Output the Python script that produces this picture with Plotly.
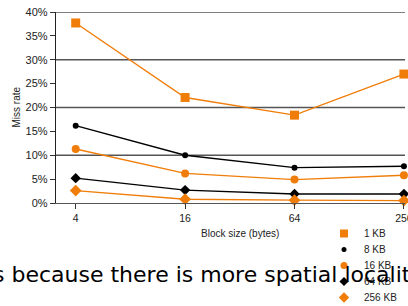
import plotly.graph_objects as go

block_sizes = ["4", "16", "64", "256"]
series_names = ["1 KB", "8 KB", "16 KB", "64 KB", "256 KB"]
miss_1kb = [37.7, 22.1, 18.4, 27.0]
miss_8kb = [16.2, 10.0, 7.4, 7.7]
miss_16kb = [11.3, 6.2, 4.9, 5.8]
miss_64kb = [5.2, 2.7, 1.9, 1.9]
miss_256kb = [2.6, 0.8, 0.6, 0.5]
y_tick_vals = [0, 5, 10, 15, 20, 25, 30, 35, 40]
y_tick_text = ["0%", "5%", "10%", "15%", "20%", "25%", "30%", "35%", "40%"]
grid_vals = [10, 20, 30, 40]

ORANGE = "#F07D0A"
BLACK = "#000000"
values = [miss_1kb, miss_8kb, miss_16kb, miss_64kb, miss_256kb]
colors = [ORANGE, BLACK, ORANGE, BLACK, ORANGE]
symbols = ["square", "circle", "circle", "diamond", "diamond"]
sizes = [9, 6, 8, 8, 9]
legend_ids = ["legend", "legend2", "legend3", "legend4", "legend5"]

W, H = 408, 306
ML, MT = 56, 12
MR = W - 405
MB = H - 203
PW, PH = W - ML - MR, H - MT - MB


def px(xp):
    return (xp - ML) / PW


def py(yp):
    return (H - MB - yp) / PH


fig = go.Figure()
for name, vals, c, s, sz in zip(series_names, values, colors, symbols, sizes):
    fig.add_trace(go.Scatter(
        x=block_sizes, y=vals, mode="lines+markers", name=name,
        line=dict(color=c, width=1.4),
        marker=dict(color=c, symbol=s, size=sz),
        showlegend=False, cliponaxis=False,
    ))
for name, c, s, sz, lid in zip(series_names, colors, symbols, sizes, legend_ids):
    fig.add_trace(go.Scatter(
        x=[None], y=[None], mode="markers", name=name,
        marker=dict(color=c, symbol=s, size=sz - 1),
        showlegend=True, legend=lid,
    ))

for g in grid_vals:
    fig.add_shape(type="line", xref="paper", x0=0, x1=1, yref="y", y0=g, y1=g,
                  line=dict(color="#555555", width=1.3), layer="below")

legend_layout = {}
for i, lid in enumerate(legend_ids):
    top = 219 + 16 * i
    legend_layout[lid] = dict(
        xref="paper", yref="paper",
        x=px(324), y=py(top), xanchor="left", yanchor="top",
        font=dict(size=10, color="#222222"),
        bgcolor="rgba(0,0,0,0)", itemwidth=30, borderwidth=0,
    )

fig.update_layout(
    width=W, height=H,
    margin=dict(l=ML, r=MR, t=MT, b=MB, autoexpand=False),
    paper_bgcolor="white", plot_bgcolor="white",
    font=dict(family="Liberation Sans, Arial, sans-serif", size=10, color="#222222"),
    showlegend=True,
    xaxis=dict(
        type="category", categoryorder="array", categoryarray=block_sizes,
        range=[-0.18, 3.01], showgrid=False, zeroline=False,
        showline=True, linecolor="#555555", linewidth=1.3,
        ticks="outside", ticklen=5, tickcolor="#333333",
        tickfont=dict(size=10.5, color="#222222"),
    ),
    yaxis=dict(
        range=[0, 40], tickmode="array", tickvals=y_tick_vals, ticktext=y_tick_text,
        showgrid=False, zeroline=False,
        showline=True, linecolor="#222222", linewidth=1.3,
        ticks="outside", ticklen=5, tickcolor="#333333",
        tickfont=dict(size=11, color="#222222"),
    ),
    annotations=[
        dict(text="Miss rate", xref="paper", yref="paper", x=px(16), y=0.5,
             textangle=-90, showarrow=False, font=dict(size=10, color="#222222"),
             xanchor="center", yanchor="middle"),
        dict(text="Block size (bytes)", xref="paper", yref="paper",
             x=px(240), y=py(233),
             showarrow=False, font=dict(size=10, color="#222222"),
             xanchor="center", yanchor="middle"),
        dict(text="s because there is more spatial localit", xref="paper", yref="paper",
             x=px(-9), y=py(274), xanchor="left", yanchor="middle",
             showarrow=False,
             font=dict(family="DejaVu Sans, sans-serif", size=22, color="#000000")),
    ],
    **legend_layout,
)

fig.write_html("out.html", config={"displayModeBar": False},
               post_script="document.body.style.margin='0';")
